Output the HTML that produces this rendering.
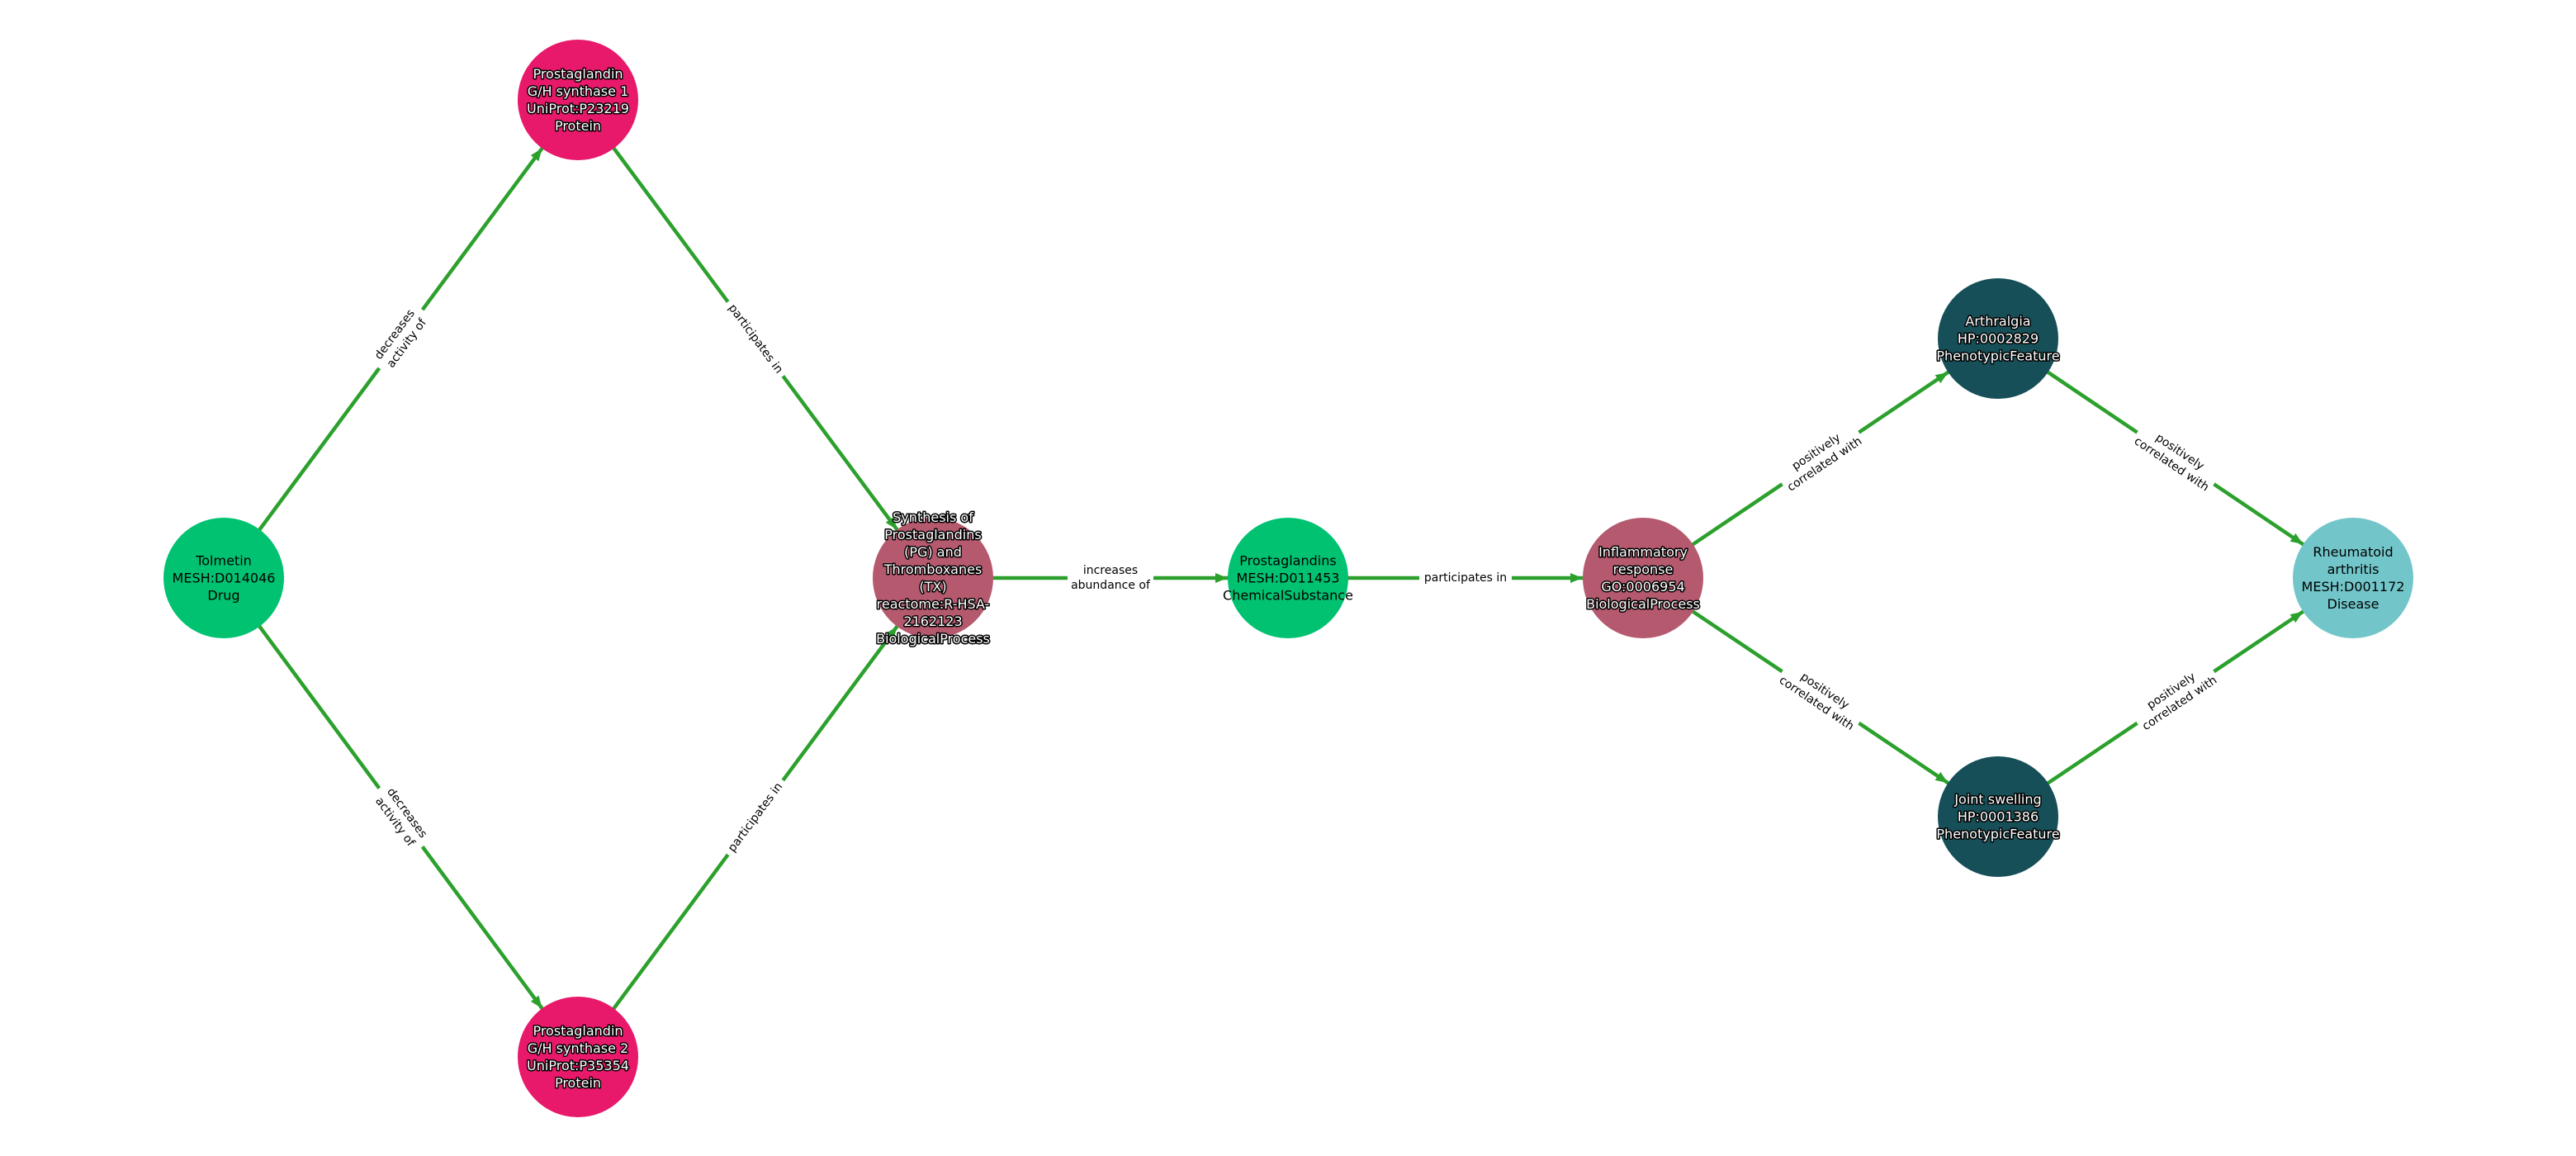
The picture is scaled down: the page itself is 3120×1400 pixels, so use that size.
<!DOCTYPE html>
<html><head><meta charset="utf-8"><style>
html,body{margin:0;padding:0;background:#fff;}
svg{display:block;}
.n{font-family:"DejaVu Sans","Liberation Sans",sans-serif;font-size:16px;text-anchor:middle;dominant-baseline:central;}
.w{fill:#fff;stroke:#000;stroke-width:3px;paint-order:stroke;stroke-linejoin:round;}
.b{fill:#000;}
.e{font-family:"DejaVu Sans","Liberation Sans",sans-serif;font-size:14px;text-anchor:middle;dominant-baseline:central;fill:#000;}
line{stroke:#2ca02c;stroke-width:4.5;marker-end:url(#ah);}
</style></head><body>
<svg width="3120" height="1400" viewBox="0 0 3120 1400" xmlns="http://www.w3.org/2000/svg">
<defs>
<marker id="ah" markerUnits="userSpaceOnUse" markerWidth="20" markerHeight="14" refX="88" refY="6" orient="auto" overflow="visible">
<path d="M0,0 L15,6 L0,12 z" fill="#2ca02c"/>
</marker>
</defs>
<line x1="271" y1="700" x2="700" y2="121"/>
<line x1="271" y1="700" x2="700" y2="1280"/>
<line x1="700" y1="121" x2="1130" y2="700"/>
<line x1="700" y1="1280" x2="1130" y2="700"/>
<line x1="1130" y1="700" x2="1560" y2="700"/>
<line x1="1560" y1="700" x2="1990" y2="700"/>
<line x1="1990" y1="700" x2="2420" y2="410"/>
<line x1="1990" y1="700" x2="2420" y2="989"/>
<line x1="2420" y1="410" x2="2850" y2="700"/>
<line x1="2420" y1="989" x2="2850" y2="700"/>
<g transform="translate(485.5,410.5) rotate(-53.5)"><rect x="-44" y="-20" width="88" height="40" fill="#fff"/><text class="e" y="-9">decreases</text><text class="e" y="9">activity of</text></g>
<g transform="translate(485.5,990) rotate(53.5)"><rect x="-44" y="-20" width="88" height="40" fill="#fff"/><text class="e" y="-9">decreases</text><text class="e" y="9">activity of</text></g>
<g transform="translate(915,410.5) rotate(53.5)"><rect x="-56" y="-11" width="112" height="22" fill="#fff"/><text class="e">participates in</text></g>
<g transform="translate(915,990) rotate(-53.5)"><rect x="-56" y="-11" width="112" height="22" fill="#fff"/><text class="e">participates in</text></g>
<g transform="translate(1345,700)"><rect x="-52" y="-20" width="104" height="40" fill="#fff"/><text class="e" y="-9">increases</text><text class="e" y="9">abundance of</text></g>
<g transform="translate(1775,700)"><rect x="-56" y="-11" width="112" height="22" fill="#fff"/><text class="e">participates in</text></g>
<g transform="translate(2205,555) rotate(-34)"><rect x="-56" y="-20" width="112" height="40" fill="#fff"/><text class="e" y="-9">positively</text><text class="e" y="9">correlated with</text></g>
<g transform="translate(2635,555) rotate(34)"><rect x="-56" y="-20" width="112" height="40" fill="#fff"/><text class="e" y="-9">positively</text><text class="e" y="9">correlated with</text></g>
<g transform="translate(2205,844.5) rotate(34)"><rect x="-56" y="-20" width="112" height="40" fill="#fff"/><text class="e" y="-9">positively</text><text class="e" y="9">correlated with</text></g>
<g transform="translate(2635,844.5) rotate(-34)"><rect x="-56" y="-20" width="112" height="40" fill="#fff"/><text class="e" y="-9">positively</text><text class="e" y="9">correlated with</text></g>
<circle cx="271" cy="700" r="73" fill="#00c271"/>
<text class="n b" x="271" y="679">Tolmetin</text><text class="n b" x="271" y="700">MESH:D014046</text><text class="n b" x="271" y="721">Drug</text>
<circle cx="700" cy="121" r="73" fill="#e8196a"/>
<text class="n w" x="700" y="89.5">Prostaglandin</text><text class="n w" x="700" y="110.5">G/H synthase 1</text><text class="n w" x="700" y="131.5">UniProt:P23219</text><text class="n w" x="700" y="152.5">Protein</text>
<circle cx="700" cy="1280" r="73" fill="#e8196a"/>
<text class="n w" x="700" y="1248.5">Prostaglandin</text><text class="n w" x="700" y="1269.5">G/H synthase 2</text><text class="n w" x="700" y="1290.5">UniProt:P35354</text><text class="n w" x="700" y="1311.5">Protein</text>
<circle cx="1130" cy="700" r="73" fill="#b5596e"/>
<text class="n w" x="1130" y="626.5">Synthesis of</text><text class="n w" x="1130" y="647.5">Prostaglandins</text><text class="n w" x="1130" y="668.5">(PG) and</text><text class="n w" x="1130" y="689.5">Thromboxanes</text><text class="n w" x="1130" y="710.5">(TX)</text><text class="n w" x="1130" y="731.5">reactome:R-HSA-</text><text class="n w" x="1130" y="752.5">2162123</text><text class="n w" x="1130" y="773.5">BiologicalProcess</text>
<circle cx="1560" cy="700" r="73" fill="#00c271"/>
<text class="n b" x="1560" y="679">Prostaglandins</text><text class="n b" x="1560" y="700">MESH:D011453</text><text class="n b" x="1560" y="721">ChemicalSubstance</text>
<circle cx="1990" cy="700" r="73" fill="#b5596e"/>
<text class="n w" x="1990" y="668.5">Inflammatory</text><text class="n w" x="1990" y="689.5">response</text><text class="n w" x="1990" y="710.5">GO:0006954</text><text class="n w" x="1990" y="731.5">BiologicalProcess</text>
<circle cx="2420" cy="410" r="73" fill="#164f58"/>
<text class="n w" x="2420" y="389">Arthralgia</text><text class="n w" x="2420" y="410">HP:0002829</text><text class="n w" x="2420" y="431">PhenotypicFeature</text>
<circle cx="2420" cy="989" r="73" fill="#164f58"/>
<text class="n w" x="2420" y="968">Joint swelling</text><text class="n w" x="2420" y="989">HP:0001386</text><text class="n w" x="2420" y="1010">PhenotypicFeature</text>
<circle cx="2850" cy="700" r="73" fill="#72c6ca"/>
<text class="n b" x="2850" y="668.5">Rheumatoid</text><text class="n b" x="2850" y="689.5">arthritis</text><text class="n b" x="2850" y="710.5">MESH:D001172</text><text class="n b" x="2850" y="731.5">Disease</text>
</svg>
</body></html>
